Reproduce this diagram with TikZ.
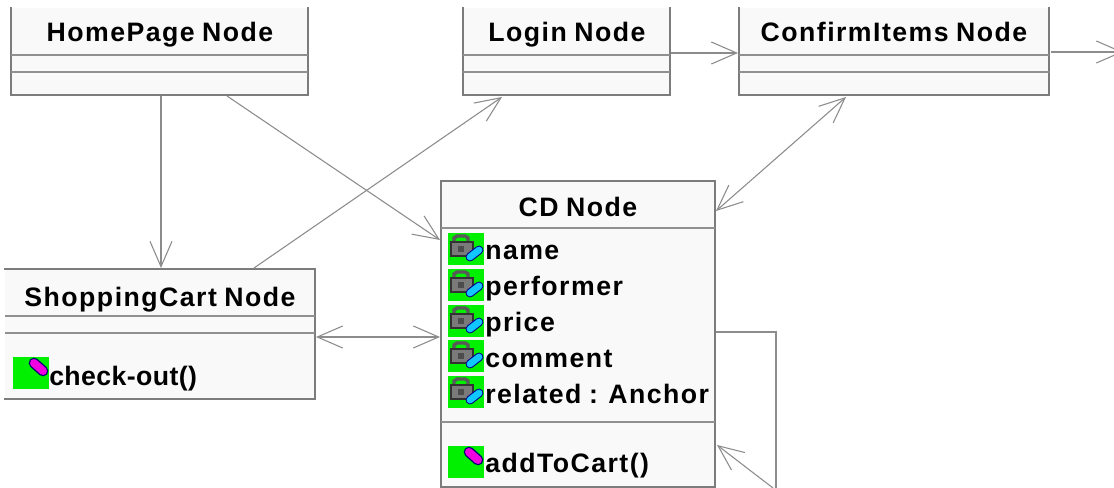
\documentclass[tikz,border=0pt]{standalone}
\usepackage{fontspec}
\setmainfont{Liberation Sans}
\newfontfamily\umlfont{Liberation Sans}[LetterSpace=5.5,WordSpace=0.85]
\newfontfamily\umltight{Liberation Sans}[LetterSpace=1.5]
\usetikzlibrary{arrows.meta}
\definecolor{edgegrey}{HTML}{7C7C7C}
\definecolor{connGrey}{HTML}{8C8C8C}
\definecolor{boxfill}{HTML}{F9F9F9}
\definecolor{icongreen}{HTML}{00F000}
\definecolor{iconpink}{HTML}{F000E0}
\definecolor{iconblue}{HTML}{10C8FF}
\definecolor{lockgrey}{HTML}{7A7A7A}
\tikzset{
  x=0.75pt,y=-0.75pt,
  umlbox/.style={fill=boxfill,draw=none,inner sep=0pt,outer sep=0pt,anchor=north west},
  boxline/.style={draw=edgegrey,line width=1pt,line cap=rect},
  sepline/.style={draw=edgegrey!85,line width=0.9pt},
  conn/.style={draw=connGrey,line width=0.8pt},
  open/.style={-{Straight Barb[length=19pt,width=16.5pt,line width=0.8pt]}},
  openboth/.style={{Straight Barb[length=19pt,width=16.5pt,line width=0.8pt]}-{Straight Barb[length=19pt,width=16.5pt,line width=0.8pt]}},
  title/.style={inner sep=0pt,anchor=base,font=\umlfont\bfseries\fontsize{20pt}{22pt}\selectfont,text=black},
  member/.style={inner sep=0pt,anchor=base west,font=\umlfont\bfseries\fontsize{20pt}{22pt}\selectfont,text=black},
  membertight/.style={inner sep=0pt,anchor=base west,font=\umltight\bfseries\fontsize{20pt}{22pt}\selectfont,text=black},
}
\newcommand{\umlrect}[5]{% name, x, y-top, width, height
  \node[umlbox,minimum width=#4*0.75pt,minimum height=#5*0.75pt] (#1) at (#2,#3) {};
}
\newcommand{\attricon}[2]{%
  \fill[icongreen] (#1,#2) rectangle +(36,32);
  \draw[black!65,line width=2.6pt] (#1+6,#2+9) -- +(0,-4) -- +(3,-6) -- +(11,-6) -- +(14,-4) -- +(14,0);
  \fill[lockgrey,draw=black!80,line width=0.9pt] (#1+3,#2+9) rectangle +(22,14);
  \fill[black!70] (#1+10,#2+13) rectangle +(6,6);
  \draw[blue!55!black,line width=6.6pt,line cap=round] (#1+22,#2+24) -- +(9,-7);
  \draw[iconblue,line width=5pt,line cap=round] (#1+22,#2+24) -- +(9,-7);
}
\newcommand{\opicon}[2]{%
  \fill[icongreen] (#1,#2) rectangle +(36,32);
  \draw[blue!45!black,line width=8pt,line cap=round] (#1+21,#2+6) -- +(9,8);
  \draw[iconpink,line width=6pt,line cap=round] (#1+21,#2+6) -- +(9,8);
}
\begin{document}
\begin{tikzpicture}
\useasboundingbox[fill=white] (0,0) rectangle (1114,488);

% boxes
\umlrect{home}{11}{8}{297}{87}
\umlrect{login}{463}{8}{207}{87}
\umlrect{confirm}{739}{8}{310}{87}
\umlrect{cd}{441}{181}{274}{306}
\umlrect{cart}{5}{269}{310}{130}

% outlines
\draw[boxline] (home.north west) -- (home.south west) -- (home.south east) -- (home.north east);
\draw[sepline] (11,55) -- (308,55) (11,72) -- (308,72);
\draw[boxline] (login.north west) -- (login.south west) -- (login.south east) -- (login.north east);
\draw[sepline] (463,55) -- (670,55) (463,72) -- (670,72);
\draw[boxline] (confirm.north west) -- (confirm.south west) -- (confirm.south east) -- (confirm.north east);
\draw[sepline] (739,55) -- (1049,55) (739,72) -- (1049,72);
\draw[boxline] (cd.north west) rectangle (cd.south east);
\draw[sepline] (441,228) -- (715,228) (441,422) -- (715,422);
\draw[boxline] (cart.north west) -- (cart.north east) -- (cart.south east) -- (cart.south west);
\draw[sepline] (5,316) -- (315,316) (5,333) -- (315,333);

% titles
\node[title] (thome) at (160,42) {HomePage Node};
\node[title] (tlogin) at (567,42) {Login Node};
\node[title] (tconfirm) at (894,42) {ConfirmItems Node};
\node[title] (tcd) at (578,217) {CD Node};
\node[title] (tcart) at (160,306) {ShoppingCart Node};

% members
\attricon{448}{233}
\attricon{448}{269}
\attricon{448}{305}
\attricon{448}{340}
\attricon{448}{376}
\opicon{448}{446}
\opicon{13}{357}
\node[member] (mname) at (485,260) {name};
\node[member] (mperf) at (485,296) {performer};
\node[member] (mprice) at (485,332) {price};
\node[member] (mcomment) at (485,368) {comment};
\node[member] (mrelated) at (485,403) {related : Anchor};
\node[member] (madd) at (485,472) {addToCart()};
\node[membertight] (mcheck) at (49,385) {check-out()};

% connector anchors
\coordinate (homeA) at (161,96);
\coordinate (cartA) at (161,268);
\coordinate (homeB) at (227,96);
\coordinate (cdA) at (440,240);
\coordinate (cartB) at (254,268);
\coordinate (loginA) at (502,97);
\coordinate (loginB) at (671,53);
\coordinate (confirmA) at (738,53);
\coordinate (confirmB) at (846,97);
\coordinate (cdB) at (716,211);
\coordinate (cartC) at (316,337);
\coordinate (cdC) at (440,337);
\coordinate (confirmC) at (1051,52);
\coordinate (offR) at (1123,52);
\coordinate (selfA) at (716,332);
\coordinate (selfB) at (776,332);
\coordinate (selfC) at (776,488);
\coordinate (selfD) at (773,488);
\coordinate (selfE) at (717,445);

% connectors
\draw[conn,open] (homeA) -- (cartA);
\draw[conn,open] (homeB) -- (cdA);
\draw[conn,open] (cartB) -- (loginA);
\draw[conn,open] (loginB) -- (confirmA);
\draw[conn,openboth] (confirmB) -- (cdB);
\draw[conn,openboth] (cartC) -- (cdC);
\draw[conn,open] (confirmC) -- (offR);
\draw[conn] (selfA) -- (selfB) -- (selfC);
\draw[conn,open] (selfD) -- (selfE);
\end{tikzpicture}
\end{document}
